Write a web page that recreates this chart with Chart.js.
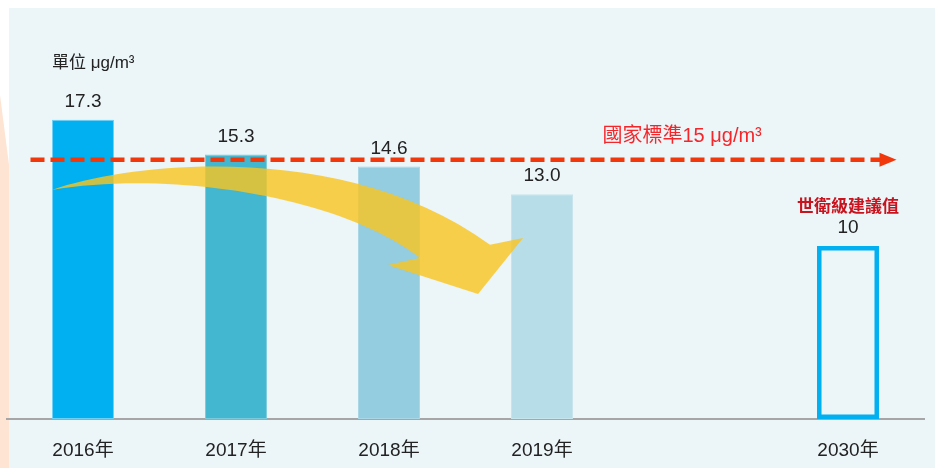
<!DOCTYPE html>
<html>
<head>
<meta charset="utf-8">
<script src="https://cdn.jsdelivr.net/npm/chart.js@4"></script>
<style>
  html, body { margin: 0; padding: 0; background: #ffffff; }
  #wrap { position: relative; width: 938px; height: 468px; overflow: hidden; }
  #peach { position: absolute; left: 0; top: 0; width: 9px; height: 468px; background: #fde4d3;
           clip-path: polygon(0 95px, 100% 165px, 100% 100%, 0 100%); }
  #panel { position: absolute; left: 9px; top: 8px; width: 926px; height: 460px; background: #ecf5f8; }
  #chart { position: absolute; left: 0; top: 0; }
</style>
</head>
<body>
<div id="wrap">
  <div id="peach"></div>
  <div id="panel"></div>
  <canvas id="chart" width="938" height="468"></canvas>
</div>
<script>
// categories and values
const years = ['2016年', '2017年', '2018年', '2019年', '', '2030年']
const pm25 = [17.3, 15.3, 14.6, 13.0, null, 10]
const barColors = ['#00b0f0', '#43b7cf', '#93cddf', '#b7dde8', 'rgba(0,0,0,0)', 'rgba(0,0,0,0)']
const standardValue = 15
const unitText = '單位 μg/m³'
const standardText = '國家標準15 μg/m³'
const whoText = '世衛級建議值'

const fontFamily = "'Liberation Sans', 'Noto Sans CJK TC', sans-serif"

// yellow trend arrow, points given as [category index, value]
const arrowUpper = [[-0.203, 13.25], [0.373, 14.99], [1.75, 16.0], [2.66, 10.07]]
const arrowHead = [[2.876, 10.47], [2.582, 7.23], [1.993, 8.91], [2.203, 9.32]]
const arrowLower = [[1.68, 12.9], [0.569, 14.41], [-0.203, 13.25]]

const decorations = {
  id: 'decorations',
  afterDatasetsDraw(chart) {
    const ctx = chart.ctx
    const xs = chart.scales.x
    const ys = chart.scales.y
    const area = chart.chartArea
    const P = p => [xs.getPixelForValue(p[0]), ys.getPixelForValue(p[1])]

    // yellow arrow
    ctx.save()
    ctx.fillStyle = 'rgba(250, 196, 30, 0.8)'
    ctx.beginPath()
    let p = P(arrowUpper[0])
    ctx.moveTo(p[0], p[1])
    let c1 = P(arrowUpper[1]), c2 = P(arrowUpper[2]), e = P(arrowUpper[3])
    ctx.bezierCurveTo(c1[0], c1[1], c2[0], c2[1], e[0], e[1])
    arrowHead.forEach(pt => { const q = P(pt); ctx.lineTo(q[0], q[1]) })
    c1 = P(arrowLower[0]); c2 = P(arrowLower[1]); e = P(arrowLower[2])
    ctx.bezierCurveTo(c1[0], c1[1], c2[0], c2[1], e[0], e[1])
    ctx.closePath()
    ctx.fill()
    ctx.restore()

    // dashed standard line with arrow
    const ly = ys.getPixelForValue(standardValue)
    const x0 = area.left + 24
    const x1 = area.right - 28
    ctx.save()
    ctx.strokeStyle = '#f0380c'
    ctx.fillStyle = '#f0380c'
    ctx.lineWidth = 4.5
    ctx.setLineDash([14, 6])
    ctx.beginPath()
    ctx.moveTo(x0, ly)
    ctx.lineTo(x1 - 16, ly)
    ctx.stroke()
    ctx.setLineDash([])
    ctx.beginPath()
    ctx.moveTo(x1 - 17, ly - 7)
    ctx.lineTo(x1, ly)
    ctx.lineTo(x1 - 17, ly + 7)
    ctx.closePath()
    ctx.fill()

    ctx.textBaseline = 'middle'
    ctx.textAlign = 'left'
    ctx.fillStyle = '#f5262a'
    ctx.font = '20px ' + fontFamily
    ctx.fillText(standardText, xs.getPixelForValue(3.395), ly - 23)
    ctx.restore()

    // value labels
    const meta = chart.getDatasetMeta(0)
    ctx.save()
    ctx.fillStyle = '#222222'
    ctx.textAlign = 'center'
    ctx.textBaseline = 'middle'
    ctx.font = '19px ' + fontFamily
    meta.data.forEach((bar, i) => {
      if (pm25[i] === null) return
      ctx.fillText(pm25[i].toFixed(i === 5 ? 0 : 1), bar.x, bar.y - 18)
    })
    // WHO guideline label
    const last = meta.data[5]
    ctx.fillStyle = '#c8141e'
    ctx.font = 'bold 17px ' + fontFamily
    ctx.fillText(whoText, last.x, last.y - 39)
    // unit
    ctx.fillStyle = '#222222'
    ctx.textAlign = 'left'
    ctx.font = '17px ' + fontFamily
    ctx.fillText(unitText, meta.data[0].x - 31, meta.data[0].y - 57)
    ctx.restore()
  }
}

new Chart(document.getElementById('chart'), {
  type: 'bar',
  data: {
    labels: years,
    datasets: [{
      data: pm25,
      backgroundColor: barColors,
      borderColor: ['#6fd0f5', '#7ccbdc', '#a9d7e5', '#c6e4ec', 'rgba(0,0,0,0)', '#00b0f0'],
      borderWidth: [1, 1, 1, 1, 0, 4.5],
      borderSkipped: false,
      categoryPercentage: 1,
      barPercentage: 0.405
    }]
  },
  options: {
    responsive: false,
    animation: false,
    layout: { padding: { left: 6.5, right: 13.5, top: 4, bottom: 0 } },
    plugins: { legend: { display: false }, tooltip: { enabled: false } },
    scales: {
      x: {
        grid: { display: false, drawTicks: false },
        border: { display: true, color: '#a6a6a6', width: 2 },
        ticks: { color: '#222222', font: { family: fontFamily, size: 19 }, padding: 20 },
        afterFit: scale => { scale.height = 49 }
      },
      y: { display: false, min: 0, max: 24 }
    }
  },
  plugins: [decorations]
});
</script>
</body>
</html>
